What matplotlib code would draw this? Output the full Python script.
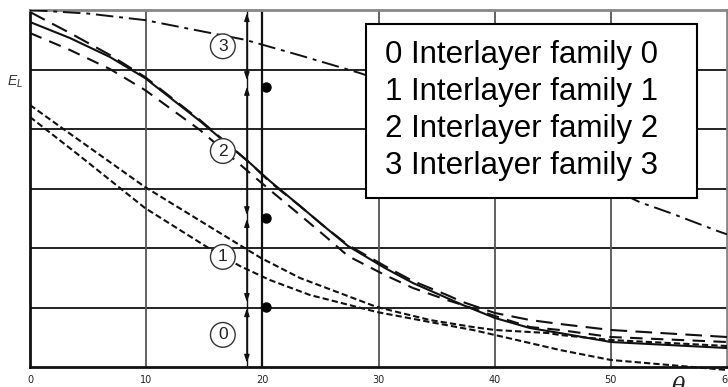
import matplotlib
matplotlib.use("Agg")
import matplotlib.pyplot as plt
from matplotlib.patches import Rectangle

# ---------------- data ----------------
x_ticks = [0, 10, 20, 30, 40, 50, 60]
x_tick_labels = ["0", "10", "20", "30", "40", "50", "60"]
y_grid = [1, 2, 3, 4, 5]

# family 3 (dash-dot)
f3_x = [0, 5.0, 9.9, 18.5, 23.2, 28.4, 35, 40, 45, 50, 52.5, 55.1, 59.4, 60]
f3_y = [6.0, 5.94, 5.83, 5.50, 5.24, 4.94, 4.50, 4.02, 3.52, 3.00, 2.77, 2.59, 2.27, 2.23]

# family 2 group
f2_x = [0, 3.44, 6.88, 9.90, 14.63, 18.93, 20.65, 23.24, 25.39, 27.37, 30.55,
        32.96, 35.89, 37.26, 40.02, 43.03, 45.61, 50.0, 60.0]
f2_solid = [5.798, 5.529, 5.210, 4.857, 4.134, 3.429, 3.126, 2.706, 2.353, 2.034,
            1.664, 1.412, 1.160, 1.042, 0.824, 0.655, 0.571, 0.420, 0.319]
f2_long = [5.966, 5.613, 5.244, 4.874, 4.151, 3.429, 3.109, 2.706, 2.353, 2.050,
           1.697, 1.445, 1.210, 1.092, 0.908, 0.790, 0.723, 0.622, 0.504]
f2_med = [5.613, 5.328, 5.008, 4.655, 3.983, 3.261, 2.975, 2.555, 2.202, 1.866,
          1.546, 1.328, 1.126, 1.042, 0.857, 0.672, 0.622, 0.504, 0.420]

# family 1 group (short dashes)
f1a_x = [0, 2.75, 9.90, 15.23, 19.88, 23.24, 29.86, 34.42, 38.12, 40.02, 44.58, 45.61, 50.0, 60.0]
f1a_y = [4.403, 4.017, 3.025, 2.387, 1.832, 1.496, 1.008, 0.790, 0.672, 0.622, 0.571, 0.538, 0.454, 0.353]
f1b_x = [0, 4.30, 9.90, 15.23, 18.07, 20.65, 24.10, 29.86, 34.42, 38.12, 40.02, 43.03, 45.61, 50.0, 60.0]
f1b_y = [4.202, 3.546, 2.672, 2.017, 1.697, 1.462, 1.210, 0.924, 0.756, 0.622, 0.538, 0.403, 0.286, 0.118, -0.050]

# region markers
dim_x = 18.67
regions = [(5.95, 4.82), (4.71, 2.55), (2.49, 1.09), (0.99, 0.07)]
dot_x = 20.3
dot_y = [4.71, 2.50, 1.01]
circle_labels = ["3", "2", "1", "0"]
circle_x = 16.6
circle_y = [5.39, 3.63, 1.85, 0.54]

legend_lines = ["0 Interlayer family 0", "1 Interlayer family 1",
                "2 Interlayer family 2", "3 Interlayer family 3"]
legend_y = [5.24, 4.62, 4.00, 3.38]

# ---------------- figure ----------------
W, H = 728, 387
fig = plt.figure(figsize=(W / 100, H / 100), dpi=100)
ax = fig.add_axes([30 / W, 20 / H, 697 / W, 357 / H])
ax.set_xlim(0, 60)
ax.set_ylim(0, 6)

ax.set_xticks(x_ticks)
ax.set_xticklabels(x_tick_labels, fontsize=7, color="#222", family="DejaVu Sans")
ax.set_yticks(y_grid)
ax.set_yticklabels([])
ax.tick_params(length=0, pad=6)

for y in y_grid:
    ax.axhline(y, color="#111", lw=1.3, zorder=1)
for xv in [10, 30, 40, 50]:
    ax.axvline(xv, color="#555", lw=1.3, zorder=1)
ax.axvline(20, color="#111", lw=1.6, zorder=1)

for s in ["left", "bottom"]:
    ax.spines[s].set_color("#111")
    ax.spines[s].set_linewidth(2.0)
for s in ["top", "right"]:
    ax.spines[s].set_color("#888")
    ax.spines[s].set_linewidth(2.0)

lc = "#111"
ax.plot(f3_x, f3_y, color=lc, lw=1.4, dashes=(9, 3, 2, 3), zorder=3)
ax.plot(f2_x, f2_solid, color=lc, lw=1.5, zorder=3)
ax.plot(f2_x, f2_long, color=lc, lw=1.5, dashes=(8, 4), zorder=3)
ax.plot(f2_x, f2_med, color=lc, lw=1.5, dashes=(6, 4), zorder=3)
ax.plot(f1a_x, f1a_y, color=lc, lw=1.5, dashes=(3, 1.5), zorder=3, clip_on=False)
ax.plot(f1b_x, f1b_y, color=lc, lw=1.5, dashes=(3, 1.5), zorder=3, clip_on=False)

# dimension line with arrows
ax.plot([dim_x, dim_x], [0, 6], color=lc, lw=1.0, zorder=2)
for top, bot in regions:
    ax.annotate("", xy=(dim_x, top), xytext=(dim_x, bot),
                arrowprops=dict(arrowstyle="<|-|>,head_length=0.45,head_width=0.15",
                                color=lc, lw=1.0, shrinkA=0, shrinkB=0), zorder=2)

ax.plot([dot_x] * len(dot_y), dot_y, "o", color="black", ms=6.5, zorder=4)

for lab, cy in zip(circle_labels, circle_y):
    ax.text(circle_x, cy, lab, ha="center", va="center", fontsize=12.5,
            family="Liberation Sans", color="#222", zorder=6,
            bbox=dict(boxstyle="circle,pad=0.28", fc="white", ec="#333", lw=1.0))

# legend box
ax.add_patch(Rectangle((28.9, 2.84), 28.5, 2.92, fc="white", ec="black", lw=1.5, zorder=7))
for t, ly in zip(legend_lines, legend_y):
    ax.text(30.55, ly, t, ha="left", va="center", fontsize=22.5,
            family="Liberation Sans", color="black", zorder=8)

plt.rcParams["mathtext.fontset"] = "custom"
plt.rcParams["mathtext.it"] = "Liberation Sans:italic"
fig.text(15 / W, 1 - 82 / H, r"$E_L$", fontsize=10, color="#333", ha="center", va="center")
fig.text(678 / W, 1 - 376 / H, "θ", fontsize=16, family="DejaVu Serif", style="italic",
         color="#222", ha="center", va="top")

fig.savefig("out.png", dpi=100)
